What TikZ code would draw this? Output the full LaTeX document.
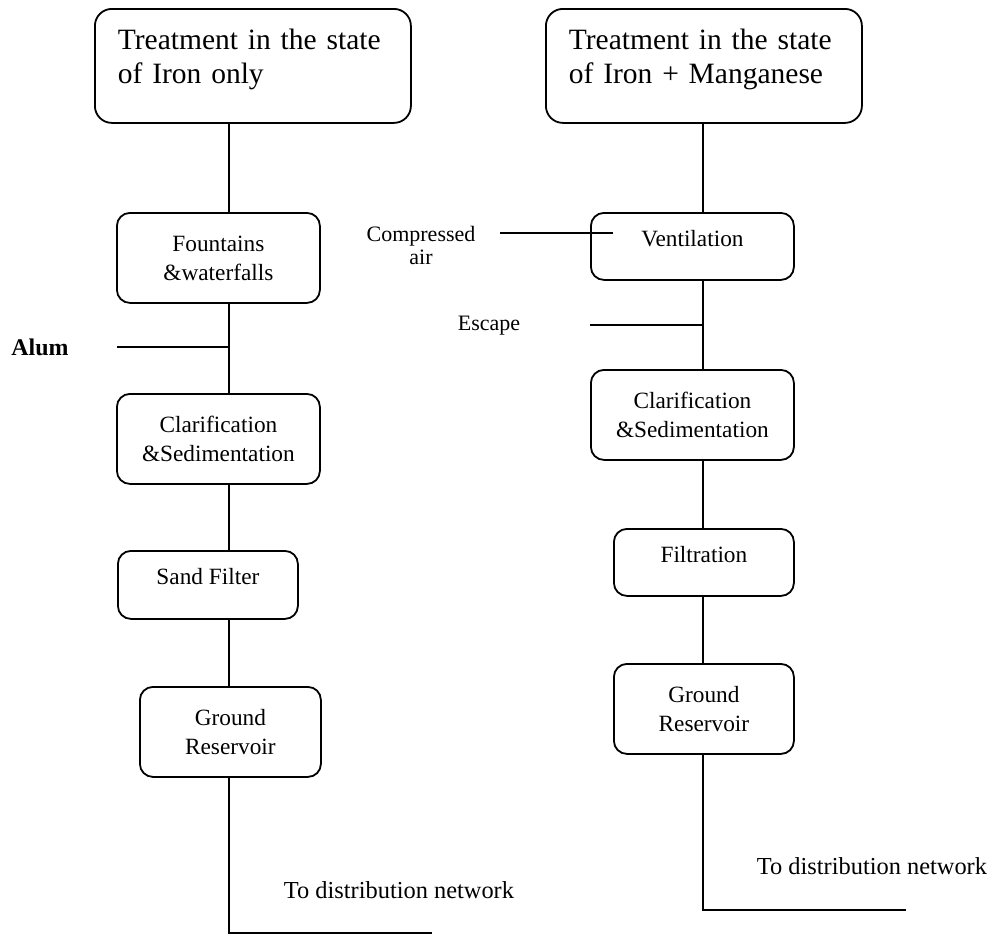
\documentclass[tikz,border=0pt]{standalone}
\usepackage{fontspec}
\setmainfont{Liberation Serif}
\usetikzlibrary{calc}

\begin{document}
\begin{tikzpicture}[x=1pt, y=-1pt,
    box/.style={draw, rounded corners=13pt, line width=1.8pt, anchor=north west, inner sep=0pt, align=center, font=\fontsize{23.3}{29}\selectfont},
    headbox/.style={draw, rounded corners=17pt, line width=1.8pt, anchor=north west, inner xsep=23pt, inner ysep=0pt, align=left, text width=270pt, text height=41pt, text depth=73pt, font=\fontsize{29.5}{34}\selectfont},
    oneline/.style={text height=#1, text depth=#1},
    lbl/.style={font=\fontsize{22}{23}\selectfont, align=center},
    pipe/.style={line width=1.8pt}]
    \useasboundingbox (0,0) rectangle (992,935);

    \coordinate (spL) at (229,0);
    \coordinate (spR) at (703,0);

    \node[headbox] (headL) at (94,8) {Treatment in the state\\of Iron only};
    \node[box, minimum width=203pt, minimum height=90pt] (fount) at (116,212) {Fountains\\\&waterfalls};
    \node[box, minimum width=203pt, minimum height=90pt] (clarL) at (116,393) {Clarification\\\&Sedimentation};
    \node[box, minimum width=180pt, minimum height=68pt, oneline=34pt] (sand) at (117,550) {Sand Filter};
    \node[box, minimum width=181pt, minimum height=90pt] (groundL) at (139,686) {Ground\\Reservoir};

    \node[headbox] (headR) at (545,8) {Treatment in the state\\of Iron + Manganese};
    \node[box, minimum width=203pt, minimum height=67pt, oneline=33.5pt] (vent) at (590,212) {Ventilation};
    \node[box, minimum width=203pt, minimum height=90pt] (clarR) at (590,369) {Clarification\\\&Sedimentation};
    \node[box, minimum width=180pt, minimum height=67pt, oneline=33.5pt] (filt) at (613,528) {Filtration};
    \node[box, minimum width=180pt, minimum height=90pt] (groundR) at (613,663) {Ground\\Reservoir};

    \node[font=\fontsize{23.9}{28}\selectfont\bfseries] (alum) at (40,347) {Alum};
    \node[lbl] (air) at (421,245) {Compressed\\air};
    \node[lbl] (esc) at (489,326) {Escape};
    \node[font=\fontsize{24.4}{28}\selectfont] (distL) at (399,890) {To distribution network};
    \node[font=\fontsize{24.4}{28}\selectfont] (distR) at (872,866) {To distribution network};

    \coordinate (alumin) at (117,347);
    \coordinate (airin) at (500,233);
    \coordinate (airend) at (613,233);
    \coordinate (escin) at (590,325);
    \coordinate (outL) at (432,933);
    \coordinate (outR) at (906,910);

    \draw[pipe] (headL.south -| spL) -- (fount.north -| spL);
    \draw[pipe] (fount.south -| spL) -- (clarL.north -| spL);
    \draw[pipe] (clarL.south -| spL) -- (sand.north -| spL);
    \draw[pipe] (sand.south -| spL) -- (groundL.north -| spL);
    \draw[pipe] (groundL.south -| spL) |- (outL);
    \draw[pipe] (alumin) -- (alumin -| spL);

    \draw[pipe] (headR.south -| spR) -- (vent.north -| spR);
    \draw[pipe] (vent.south -| spR) -- (clarR.north -| spR);
    \draw[pipe] (clarR.south -| spR) -- (filt.north -| spR);
    \draw[pipe] (filt.south -| spR) -- (groundR.north -| spR);
    \draw[pipe] (groundR.south -| spR) |- (outR);
    \draw[pipe] (airin) -- (airend);
    \draw[pipe] (escin) -- (escin -| spR);
\end{tikzpicture}
\end{document}
